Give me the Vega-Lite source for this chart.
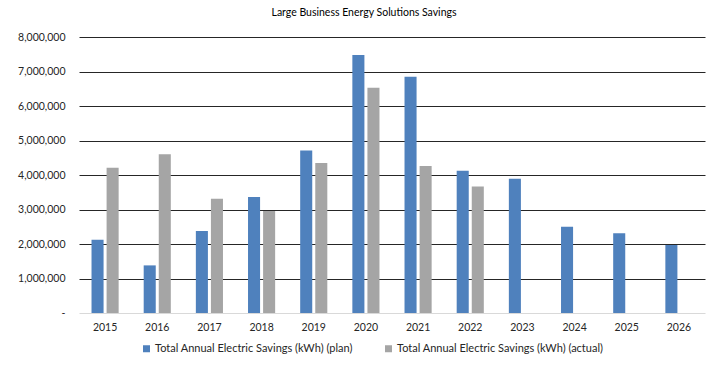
{
  "$schema": "https://vega.github.io/schema/vega-lite/v6.json",
  "width": 626,
  "height": 276,
  "autosize": {"type": "none"},
  "padding": {"left": 79, "top": 37, "right": 2, "bottom": 55},
  "background": "white",
  "title": {"text": "Large Business Energy Solutions Savings", "fontSize": 10.5, "fontWeight": "normal", "font": "Lato", "color": "#000000", "offset": 14, "dx": -28},
  "config": {"view": {"stroke": null}, "font": "Lato"},
  "data": {"values": [
    {"year": "2015", "series": "Total Annual Electric Savings (kWh) (plan)", "value": 2120000},
    {"year": "2015", "series": "Total Annual Electric Savings (kWh) (actual)", "value": 4210000},
    {"year": "2016", "series": "Total Annual Electric Savings (kWh) (plan)", "value": 1380000},
    {"year": "2016", "series": "Total Annual Electric Savings (kWh) (actual)", "value": 4600000},
    {"year": "2017", "series": "Total Annual Electric Savings (kWh) (plan)", "value": 2380000},
    {"year": "2017", "series": "Total Annual Electric Savings (kWh) (actual)", "value": 3310000},
    {"year": "2018", "series": "Total Annual Electric Savings (kWh) (plan)", "value": 3360000},
    {"year": "2018", "series": "Total Annual Electric Savings (kWh) (actual)", "value": 2960000},
    {"year": "2019", "series": "Total Annual Electric Savings (kWh) (plan)", "value": 4710000},
    {"year": "2019", "series": "Total Annual Electric Savings (kWh) (actual)", "value": 4350000},
    {"year": "2020", "series": "Total Annual Electric Savings (kWh) (plan)", "value": 7480000},
    {"year": "2020", "series": "Total Annual Electric Savings (kWh) (actual)", "value": 6530000},
    {"year": "2021", "series": "Total Annual Electric Savings (kWh) (plan)", "value": 6850000},
    {"year": "2021", "series": "Total Annual Electric Savings (kWh) (actual)", "value": 4260000},
    {"year": "2022", "series": "Total Annual Electric Savings (kWh) (plan)", "value": 4120000},
    {"year": "2022", "series": "Total Annual Electric Savings (kWh) (actual)", "value": 3670000},
    {"year": "2023", "series": "Total Annual Electric Savings (kWh) (plan)", "value": 3890000},
    {"year": "2024", "series": "Total Annual Electric Savings (kWh) (plan)", "value": 2500000},
    {"year": "2025", "series": "Total Annual Electric Savings (kWh) (plan)", "value": 2310000},
    {"year": "2026", "series": "Total Annual Electric Savings (kWh) (plan)", "value": 1970000}
  ]},
  "mark": {"type": "bar"},
  "encoding": {
    "x": {
      "field": "year", "type": "ordinal",
      "scale": {"paddingInner": 0.48, "paddingOuter": 0.24},
      "axis": {"title": null, "labelAngle": 0, "ticks": false, "domain": false, "labelPadding": 9, "labelFontSize": 10.5, "labelColor": "#262626", "labelFont": "Lato"}
    },
    "xOffset": {
      "field": "series", "type": "nominal",
      "scale": {"domain": ["Total Annual Electric Savings (kWh) (plan)", "Total Annual Electric Savings (kWh) (actual)"], "paddingInner": 0.2, "paddingOuter": 0}
    },
    "y": {
      "field": "value", "type": "quantitative",
      "scale": {"domain": [0, 8000000], "nice": false},
      "axis": {
        "title": null, "values": [0, 1000000, 2000000, 3000000, 4000000, 5000000, 6000000, 7000000, 8000000],
        "ticks": false, "domain": false, "labelPadding": 14, "labelFontSize": 10.5, "labelColor": "#262626", "labelFont": "Lato",
        "labelExpr": "datum.value === 0 ? '-' : format(datum.value, ',')",
        "grid": true, "gridWidth": 1,
        "gridColor": {"condition": {"test": "datum.value === 0", "value": "#d9d9d9"}, "value": "#262626"}
      }
    },
    "color": {
      "field": "series", "type": "nominal",
      "scale": {"domain": ["Total Annual Electric Savings (kWh) (plan)", "Total Annual Electric Savings (kWh) (actual)"], "range": ["#4F81BD", "#A5A5A5"]},
      "legend": {
        "title": null, "orient": "none", "direction": "horizontal", "legendX": 62, "legendY": 306,
        "symbolType": "square", "symbolSize": 49, "symbolStrokeWidth": 0, "labelFontSize": 11, "labelColor": "#262626", "labelFont": "Lato",
        "labelLimit": 400, "columnPadding": 30, "labelOffset": 3
      }
    }
  }
}
